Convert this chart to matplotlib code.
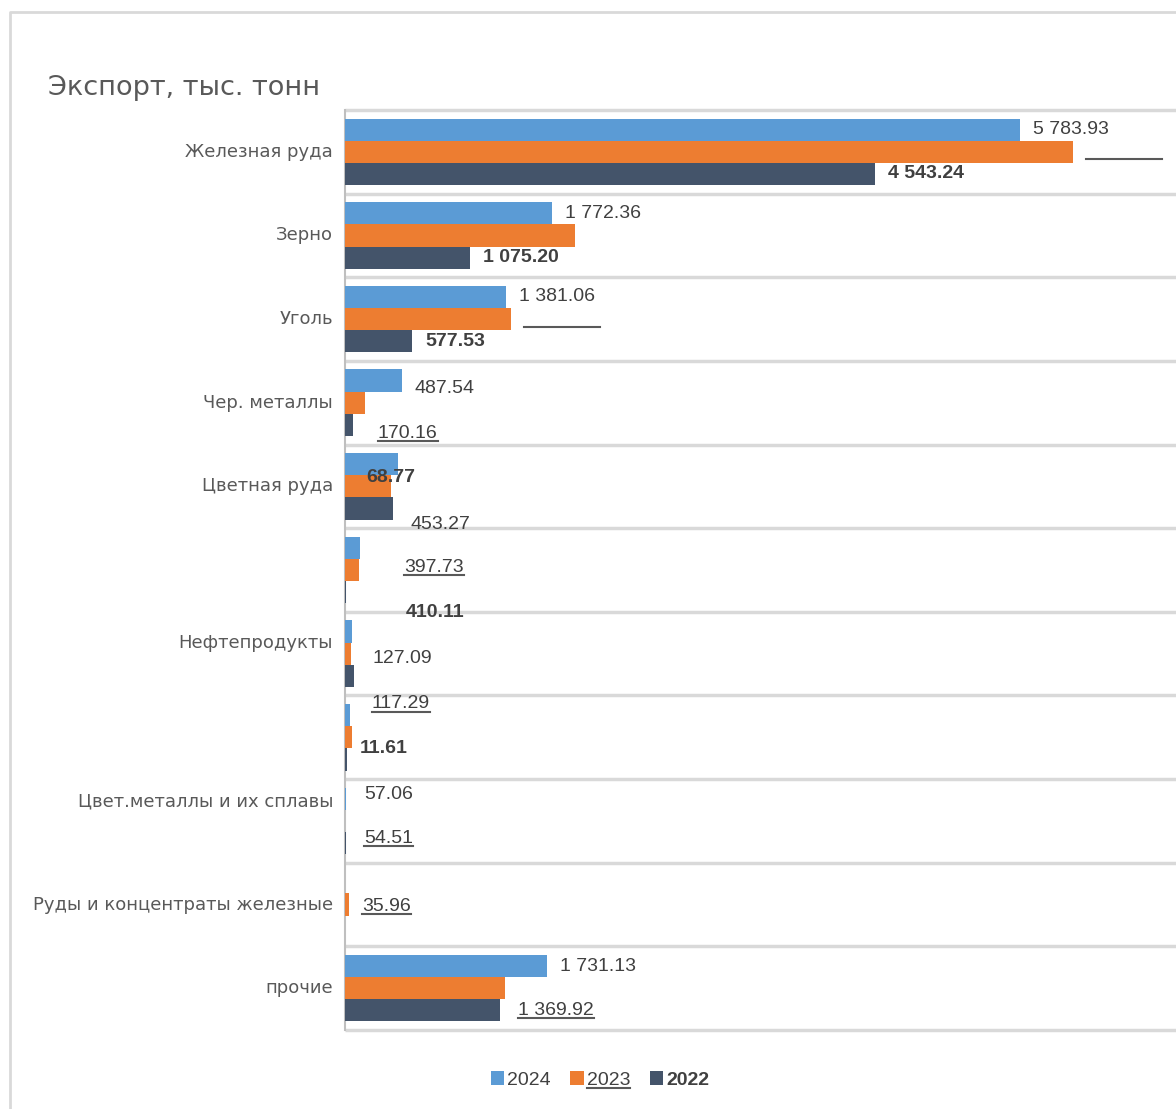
import numpy as np
import matplotlib
matplotlib.use("Agg")
import matplotlib.pyplot as plt
from matplotlib.lines import Line2D

# Export by commodity group, thousand tonnes
categories = ["Железная руда", "Зерно", "Уголь", "Чер. металлы", "Цветная руда", "",
              "Нефтепродукты", "", "Цвет.металлы и их сплавы",
              "Руды и концентраты железные", "прочие"]
years = ["2024", "2023", "2022"]
v2024 = [5783.93, 1772.36, 1381.06, 487.54, 453.27, 127.09, 57.06, 43.0, 12.0, 0.0, 1731.13]
v2023 = [6240.0, 1971.0, 1423.0, 170.16, 397.73, 117.29, 54.51, 60.0, 0.0, 35.96, 1369.92]
v2022 = [4543.24, 1075.20, 577.53, 68.77, 410.11, 11.61, 80.0, 17.0, 12.0, 0.0, 1330.0]

# data labels per series: which categories carry one
labels_2024 = [0, 1, 2, 3, 4, 5, 6, 10]
labels_2023 = [0, 2, 3, 4, 5, 6, 9, 10]
blank_2023 = [0, 2]
labels_2022 = [0, 1, 2, 3, 4, 5]
# vertical drift of each label below its own bar, pixels
drift_2024 = [0, 0, 0, 8, 60, 111, 163, 0]
drift_2023 = [0, 0, 31, 81, 134, 185, 2, 22]
drift_2022 = [0, 0, 0, 53, 104, 156]
cat_drift = {6: -11, 8: -19}

colors = ["#5B9BD5", "#ED7D31", "#44546A"]
W, H = 1176, 1109
px_per_unit = 0.1167

fig = plt.figure(figsize=(W / 100, H / 100), dpi=100)
fig.patch.set_facecolor("white")
# chart frame: only its top and left edges fall inside the image
fig.add_artist(Line2D([10 / W, 10 / W, 1.0], [0.0, 1 - 12 / H, 1 - 12 / H],
                      transform=fig.transFigure, color="#D9D9D9", lw=2))

ax = fig.add_axes([345 / W, 1 - 1030 / H, (W - 345) / W, (1030 - 110) / H])
y = np.arange(len(categories))
h = 0.265
series = [v2024, v2023, v2022]
for k, vals in enumerate(series):
    ax.barh(y + (k - 1) * h, vals, height=h, color=colors[k], label=years[k], zorder=3)

ax.set_xlim(0, (W - 345) / px_per_unit)
ax.set_ylim(len(categories) - 0.5, -0.5)
ax.hlines(np.arange(-0.5, len(categories)), 0, (W - 345) / px_per_unit,
          color="#D9D9D9", lw=2.5, clip_on=False, zorder=1)
for s in ["top", "right", "bottom"]:
    ax.spines[s].set_visible(False)
ax.spines["left"].set_color("#BFBFBF")
ax.spines["left"].set_linewidth(1.5)
ax.set_xticks([])
ax.set_yticks([])

for i, name in enumerate(categories):
    if name:
        ax.annotate(name, xy=(0, i), xycoords=("axes fraction", "data"),
                    xytext=(-12, -cat_drift.get(i, 0)), textcoords="offset pixels",
                    ha="right", va="center", fontsize=13, color="#595959",
                    family="DejaVu Sans")


def fmt(v):
    return f"{v:,.2f}".replace(",", " ")


underlined = []
for k, idx, drift, weight in [(0, labels_2024, drift_2024, "normal"),
                              (1, labels_2023, drift_2023, "normal"),
                              (2, labels_2022, drift_2022, "bold")]:
    for i, d in zip(idx, drift):
        v = series[k][i]
        blank = k == 1 and i in blank_2023
        t = ax.annotate("0 000.00" if blank else fmt(v), xy=(v, i + (k - 1) * h),
                        xytext=(13, -d), textcoords="offset pixels",
                        ha="left", va="center", fontsize=14, fontweight=weight,
                        color="none" if blank else "#404040",
                        family="Liberation Sans", zorder=4)
        if k == 1:
            underlined.append(t)

fig.text(48 / W, 1 - 88 / H, "Экспорт, тыс. тонн", ha="left", va="center",
         fontsize=19.5, color="#595959", family="DejaVu Sans")

leg = fig.legend(loc="center", bbox_to_anchor=(600 / W, 1 - 1080 / H), ncol=3,
                 frameon=False, handlelength=0.7, handleheight=0.7,
                 handletextpad=0.15, columnspacing=1.0,
                 prop={"family": "Liberation Sans", "size": 14})
for t in leg.get_texts():
    t.set_color("#404040")
leg.get_texts()[2].set_fontweight("bold")
underlined.append(leg.get_texts()[1])

# underline the 2023 labels once their extents are known
fig.canvas.draw()
renderer = fig.canvas.get_renderer()
inv = fig.transFigure.inverted()
for t in underlined:
    bb = t.get_window_extent(renderer)
    (x0, y0), (x1, _) = inv.transform([(bb.x0, bb.y0 + 1), (bb.x1, bb.y0 + 1)])
    fig.add_artist(Line2D([x0, x1], [y0, y0], transform=fig.transFigure,
                          color="#595959", lw=1.5))

fig.savefig("out.png", dpi=100)
